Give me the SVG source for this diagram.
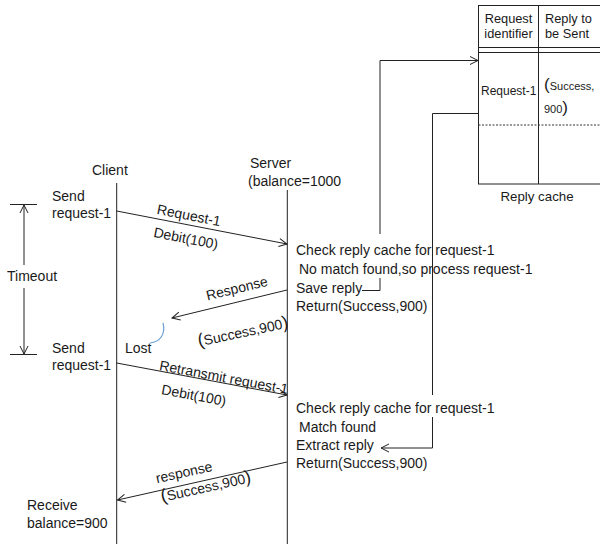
<svg xmlns="http://www.w3.org/2000/svg" width="600" height="544" viewBox="0 0 600 544">
<defs>
<style>
text{font-family:"Liberation Sans",Arial,sans-serif;fill:#1a1a1a;font-size:14px}
.ln{stroke:#222;stroke-width:1;fill:none}
.arr{marker-end:url(#ah)}
.sm{font-size:12.8px}
.tb{font-size:12px}
.c{text-anchor:middle}
.par{font-size:18px}
</style>
<marker id="ah" markerWidth="10" markerHeight="10" refX="9" refY="5" orient="auto" markerUnits="userSpaceOnUse">
<path d="M1,1 L9,5 L1,9" fill="none" stroke="#222" stroke-width="1"/>
</marker>
</defs>
<rect width="600" height="544" fill="#fff"/>

<g id="client">
<text x="92" y="175">Client</text>
<line class="ln" x1="116.7" y1="183" x2="116.7" y2="544"/>
<text x="52" y="201">Send</text>
<text x="52" y="218">request-1</text>
<text x="52" y="353">Send</text>
<text x="52" y="370">request-1</text>
<text x="27" y="510">Receive</text>
<text x="27" y="528">balance=900</text>
</g>

<g id="server">
<text x="250" y="168">Server</text>
<text x="248" y="186">(balance=1000</text>
<line class="ln" x1="287.3" y1="190" x2="287.3" y2="544"/>
<text x="296" y="255">Check reply cache for request-1</text>
<text x="299" y="274">No match found,so process request-1</text>
<text x="296" y="293">Save reply</text>
<text x="296" y="311">Return(Success,900)</text>
<text x="296" y="413">Check reply cache for request-1</text>
<text x="299" y="432">Match found</text>
<text x="296" y="450">Extract reply</text>
<text x="296" y="468">Return(Success,900)</text>
</g>

<g id="timeout">
<line class="ln" x1="10" y1="204.5" x2="37" y2="204.5"/>
<line class="ln" x1="10" y1="354.5" x2="37" y2="354.5"/>
<line class="ln arr" x1="24" y1="265" x2="24" y2="205"/>
<line class="ln arr" x1="24" y1="288" x2="24" y2="354"/>
<text x="7" y="281">Timeout</text>
</g>

<g id="reply-cache">
<rect class="ln" x="478.5" y="5.5" width="130" height="178.5"/>
<line class="ln" x1="538.5" y1="5.5" x2="538.5" y2="184"/>
<line class="ln" x1="478.5" y1="47.5" x2="600" y2="47.5"/>
<line class="ln" x1="478.5" y1="52.5" x2="600" y2="52.5"/>
<line x1="478.5" y1="125" x2="600" y2="125" stroke="#333" stroke-width="1" stroke-dasharray="2,1.5"/>
<text class="sm c" x="508.5" y="23">Request</text>
<text class="sm c" x="508.5" y="37.5">identifier</text>
<text class="sm" x="545" y="23">Reply to</text>
<text class="sm" x="545" y="37.5">be Sent</text>
<text class="tb" x="481" y="95">Request-1</text>
<text x="544" y="90" style="font-size:11px"><tspan style="font-size:17px">(</tspan>Success,</text>
<text x="544" y="113" style="font-size:11px">900<tspan style="font-size:17px">)</tspan></text>
<text class="c" x="537" y="201" style="font-size:13.3px">Reply cache</text>
</g>

<g id="connectors">
<line class="ln arr" x1="116.7" y1="211" x2="287" y2="244"/>
<line class="ln arr" x1="287" y1="290" x2="172" y2="318"/>
<path d="M163,323 C166,334 160,342 150,343" fill="none" stroke="#6c9fd2" stroke-width="1.2"/>
<line class="ln arr" x1="116.7" y1="363" x2="287" y2="395"/>
<line class="ln arr" x1="287" y1="462" x2="117.5" y2="500"/>
<path class="ln arr" d="M380,234 V60.5 H478"/>
<path class="ln" d="M362,290.5 H380 V278"/>
<path class="ln" d="M478,113.5 H432.5 V395"/>
<path class="ln arr" d="M432.5,417 V448 H381"/>
</g>

<g id="labels">
<text class="c" transform="translate(188,220) rotate(11)">Request-1</text>
<text class="c" transform="translate(185,243) rotate(11)">Debit(100)</text>
<text class="c" transform="translate(238,293) rotate(-13.7)">Response</text>
<text class="c" transform="translate(244,337) rotate(-12)"><tspan class="par">(</tspan>Success,900<tspan class="par">)</tspan></text>
<text x="125" y="353">Lost</text>
<text class="c" transform="translate(223,382) rotate(10.6)">Retransmit request-1</text>
<text class="c" transform="translate(193,400) rotate(10.6)">Debit(100)</text>
<text class="c" transform="translate(185,477) rotate(-12.6)">response</text>
<text class="c" transform="translate(207,492) rotate(-12.6)"><tspan class="par">(</tspan>Success,900<tspan class="par">)</tspan></text>
</g>
</svg>
